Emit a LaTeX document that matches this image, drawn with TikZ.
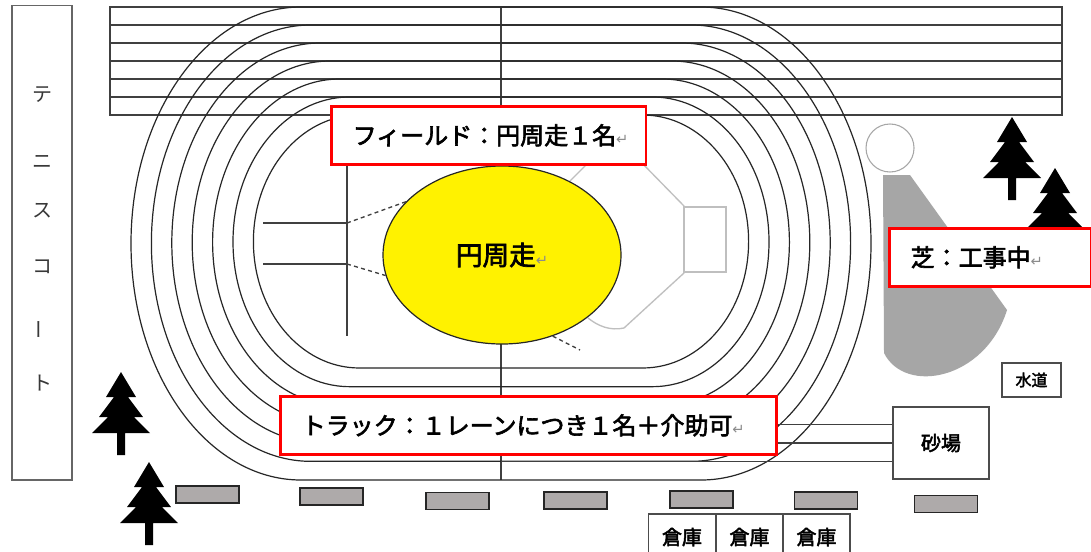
\documentclass[tikz,border=0pt]{standalone}
\usepackage{fontspec}
\usepackage{tikz}
\usetikzlibrary{shapes.geometric}

\newfontfamily\jp{Noto Sans CJK JP}[AutoFakeBold=2.5]
\newfontfamily\dejavu{DejaVu Sans}

\definecolor{benchgray}{HTML}{AEAAAA}
\definecolor{turf}{HTML}{A6A6A6}
\definecolor{fieldline}{HTML}{BFBFBF}
\definecolor{retgray}{HTML}{8C8C8C}
\definecolor{linegray}{HTML}{404040}

\newcommand\retmark{{\dejavu\mdseries\fontsize{11}{11}\selectfont\textcolor{retgray}{↵}}}

\tikzset{
	lane/.style={line width=0.9pt, black!85},
	strip/.style={line width=1.4pt, linegray},
	lblbox/.style={draw=red, line width=2pt, fill=white, anchor=north west, inner xsep=16pt, minimum height=43.5pt, align=left, font=\jp\bfseries\fontsize{18pt}{20pt}\selectfont},
	bench/.style={draw=black!85, line width=1.1pt, fill=benchgray, minimum width=47pt, minimum height=12.5pt, inner sep=0pt},
	hut/.style={draw=black!70, line width=1.1pt, fill=white, inner sep=0pt, font=\jp\bfseries\fontsize{15pt}{16pt}\selectfont},
	pine/.pic={\fill (0,0) -- (15,25) -- (7,25) -- (22,45) -- (13,45) -- (29,61) -- (4,61) -- (4,83) -- (-4,83) -- (-4,61) -- (-29,61) -- (-13,45) -- (-22,45) -- (-7,25) -- (-15,25) -- cycle;}
}

\begin{document}
\begin{tikzpicture}[x=0.75pt, y=-0.75pt]
	
	\useasboundingbox (0,0) rectangle (1091,551);
	\fill[white] (0,0) rectangle (1091,551);
	
	\node[draw=black!60, line width=1pt, minimum width=45pt, minimum height=356pt, inner sep=0pt] (court) at (42,242.5) {};
	\foreach \ch/\y/\r in {テ/95/0, ニ/162/0, ス/211/0, コ/267/0, ー/329/90, ト/383/0}
		\node[font=\jp\fontsize{15pt}{15pt}\selectfont, text=black!78, rotate=\r] (court-\y) at (42,\y) {\ch};
	
	\draw[strip] (110,7) rectangle (1062,115);
	\foreach \k in {1,...,5}
		\draw[strip] (110,7+18*\k) -- (1062,7+18*\k);
	\draw[strip] (501,7) -- (501,480);
	
	\foreach \k in {0,...,6}{
		\pgfmathsetmacro\lanetop{7+18*\k}
		\pgfmathsetmacro\lanebot{480-18.67*\k}
		\pgfmathsetmacro\halfs{200-9.7*\k}
		\pgfmathsetmacro\radx{170-10.7*\k}
		\pgfmathsetmacro\rady{(\lanebot-\lanetop)/2}
		\draw[lane] (501-\halfs,\lanetop) -- (501+\halfs,\lanetop) arc[start angle=-90, end angle=90, x radius=\radx, y radius=\rady] -- (501-\halfs,\lanebot) arc[start angle=90, end angle=270, x radius=\radx, y radius=\rady] -- cycle;
	}
	\foreach \y in {424.3,442.9,461.3}
		\draw[strip, line width=1.1pt] (501,\y) -- (893,\y);
	
	\fill[turf] (883,175) -- (910,175) -- (1007,310) .. controls (985,380) and (905,395) .. (884,353) -- cycle;
	\node[circle, draw=black!35, fill=white, line width=0.8pt, minimum size=36pt] (jump) at (890,148) {};
	
	\draw[fieldline, line width=1pt] (566,185) -- (590,161) -- (640,161) -- (684,206) -- (684,273) -- (624,328) .. controls (610,331) and (598,326) .. (588,318);
	\draw[fieldline, line width=1pt] (684,207) rectangle (726,272);
	\draw[strip, line width=1.2pt] (347,163) -- (347,336);
	\coordinate (s1) at (347,223);
	\coordinate (s2) at (347,264);
	\draw[strip, line width=1.2pt] (263,223) -- (s1);
	\draw[strip, line width=1.2pt] (263,264) -- (s2);
	
	\node[ellipse, draw=black!85, line width=0.9pt, fill=yellow, minimum width=178.5pt, minimum height=133.5pt, inner sep=0pt, font=\jp\bfseries\fontsize{20pt}{22pt}\selectfont] (ring) at (502,255) {円周走\retmark};
	\coordinate (d3) at (580,350);
	\draw[linegray, line width=1pt, dash pattern=on 3pt off 2.5pt] (s1) -- (ring.151);
	\draw[linegray, line width=1pt, dash pattern=on 3pt off 2.5pt] (s2) -- (ring.190);
	\draw[linegray, line width=1pt, dash pattern=on 3pt off 2.5pt] (ring.302) -- (d3);
	
	\node[bench] (b1) at (207.5,494.5) {};
	\node[bench] (b2) at (331.5,496.5) {};
	\node[bench] (b3) at (457.5,501) {};
	\node[bench] (b4) at (575.5,500.5) {};
	\node[bench] (b5) at (701.5,499.5) {};
	\node[bench] (b6) at (826,500.5) {};
	\node[bench] (b7) at (946,504) {};
	
	\node[hut, minimum width=50.25pt, minimum height=34.5pt] (shed1) at (682,537) {倉庫};
	\node[hut, minimum width=50.25pt, minimum height=34.5pt] (shed2) at (749.5,537) {倉庫};
	\node[hut, minimum width=50.25pt, minimum height=34.5pt] (shed3) at (816.5,537) {倉庫};
	\node[hut, minimum width=72pt, minimum height=54pt] (pit) at (941,443) {砂場};
	\node[hut, minimum width=44.25pt, minimum height=25.5pt, font=\jp\bfseries\fontsize{12pt}{13pt}\selectfont] (tap) at (1031.5,380) {水道};
	
	\pic at (1012,117) {pine};
	\pic at (1055,168) {pine};
	\pic at (121,372) {pine};
	\pic at (149,462) {pine};
	
	\node[lblbox, text width=204pt] (field) at (330,105) {フィールド：円周走１名\retmark};
	\node[lblbox, text width=340pt] (track) at (279,395) {トラック：１レーンにつき１名＋介助可\retmark};
	\node[lblbox, text width=119.5pt] (turfnote) at (888,227) {芝：工事中\retmark};
	
\end{tikzpicture}
\end{document}
